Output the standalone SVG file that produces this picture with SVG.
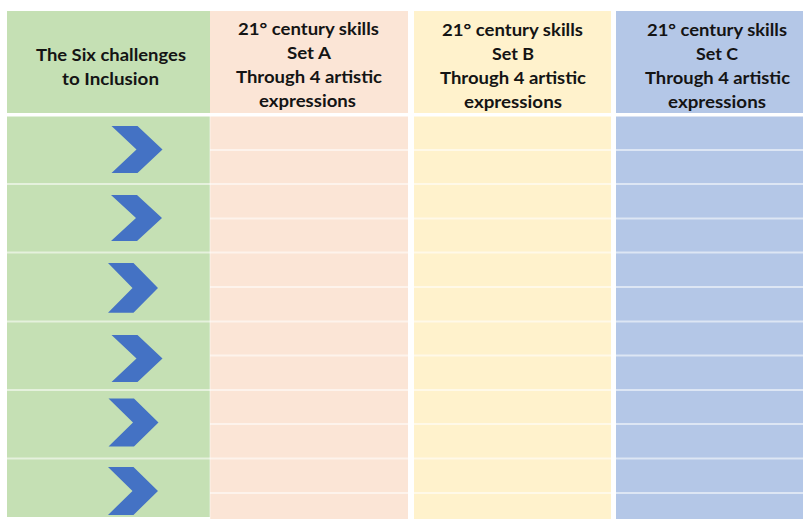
<svg xmlns="http://www.w3.org/2000/svg" width="803" height="519" viewBox="0 0 803 519">
<style>
.t{font-family:Lato,"Liberation Sans",sans-serif;font-weight:bold;font-size:17.5px;fill:#141414;text-anchor:middle}
.sep{fill:#ffffff;fill-opacity:0.55}
.hsep{fill:#ffffff}
.chev{fill:#4472c4}
</style>
<defs>
<path id="chev" d="M0,0 H26 L51,23.5 L26,47 H0 L25,23.5 Z"/>
</defs>
<rect width="803" height="519" fill="#ffffff"/>
<g id="columns">
<rect x="7" y="11" width="203" height="506" fill="#c5e0b4"/>
<rect x="210" y="11" width="198" height="508" fill="#fbe5d6"/>
<rect x="414" y="11" width="197" height="508" fill="#fff2cc"/>
<rect x="616" y="11" width="187" height="508" fill="#b4c7e7"/>
<rect x="209.5" y="116" width="1" height="403" fill="#ffffff" fill-opacity="0.5"/>
</g>
<g id="grid-lines">
<rect class="hsep" x="7" y="113" width="796" height="3.5"/>
<rect class="sep" x="7" y="183" width="796" height="2"/>
<rect class="sep" x="7" y="251.5" width="796" height="2"/>
<rect class="sep" x="7" y="320.5" width="796" height="2"/>
<rect class="sep" x="7" y="389" width="796" height="2"/>
<rect class="sep" x="7" y="457.5" width="796" height="2"/>
<rect class="sep" x="210" y="149" width="593" height="2"/>
<rect class="sep" x="210" y="217.5" width="593" height="2"/>
<rect class="sep" x="210" y="286" width="593" height="2"/>
<rect class="sep" x="210" y="354.5" width="593" height="2"/>
<rect class="sep" x="210" y="423" width="593" height="2"/>
<rect class="sep" x="210" y="492" width="593" height="2"/>
<rect x="408" y="0" width="6" height="519" fill="#ffffff"/>
<rect x="611" y="0" width="5" height="519" fill="#ffffff"/>
</g>
<g id="header-challenges">
<text class="t" x="111" y="61" textLength="150" lengthAdjust="spacingAndGlyphs">The Six challenges</text>
<text class="t" x="110.5" y="85" textLength="97" lengthAdjust="spacingAndGlyphs">to Inclusion</text>
</g>
<g id="header-set-a">
<text class="t" x="308.5" y="35" textLength="141" lengthAdjust="spacingAndGlyphs">21° century skills</text>
<text class="t" x="309" y="59" textLength="44" lengthAdjust="spacingAndGlyphs">Set A</text>
<text class="t" x="309" y="83" textLength="146" lengthAdjust="spacingAndGlyphs">Through 4 artistic</text>
<text class="t" x="307.5" y="107" textLength="97" lengthAdjust="spacingAndGlyphs">expressions</text>
</g>
<g id="header-set-b">
<text class="t" x="512.5" y="36" textLength="141" lengthAdjust="spacingAndGlyphs">21° century skills</text>
<text class="t" x="513" y="60" textLength="42" lengthAdjust="spacingAndGlyphs">Set B</text>
<text class="t" x="513" y="84" textLength="146" lengthAdjust="spacingAndGlyphs">Through 4 artistic</text>
<text class="t" x="513" y="108" textLength="98" lengthAdjust="spacingAndGlyphs">expressions</text>
</g>
<g id="header-set-c">
<text class="t" x="717" y="36" textLength="140" lengthAdjust="spacingAndGlyphs">21° century skills</text>
<text class="t" x="717" y="60" textLength="42" lengthAdjust="spacingAndGlyphs">Set C</text>
<text class="t" x="717.5" y="84" textLength="145" lengthAdjust="spacingAndGlyphs">Through 4 artistic</text>
<text class="t" x="717" y="108" textLength="98" lengthAdjust="spacingAndGlyphs">expressions</text>
</g>
<g id="challenge-1"><use href="#chev" class="chev" transform="translate(111.5,126)"/></g>
<g id="challenge-2"><use href="#chev" class="chev" transform="translate(111,195) scale(1,0.98)"/></g>
<g id="challenge-3"><use href="#chev" class="chev" transform="translate(108,263) scale(0.98,1.06)"/></g>
<g id="challenge-4"><use href="#chev" class="chev" transform="translate(111.5,335)"/></g>
<g id="challenge-5"><use href="#chev" class="chev" transform="translate(108.5,398.5) scale(0.98,1.02)"/></g>
<g id="challenge-6"><use href="#chev" class="chev" transform="translate(108,467) scale(0.98,1.02)"/></g>
<g id="connectors"></g>
</svg>
